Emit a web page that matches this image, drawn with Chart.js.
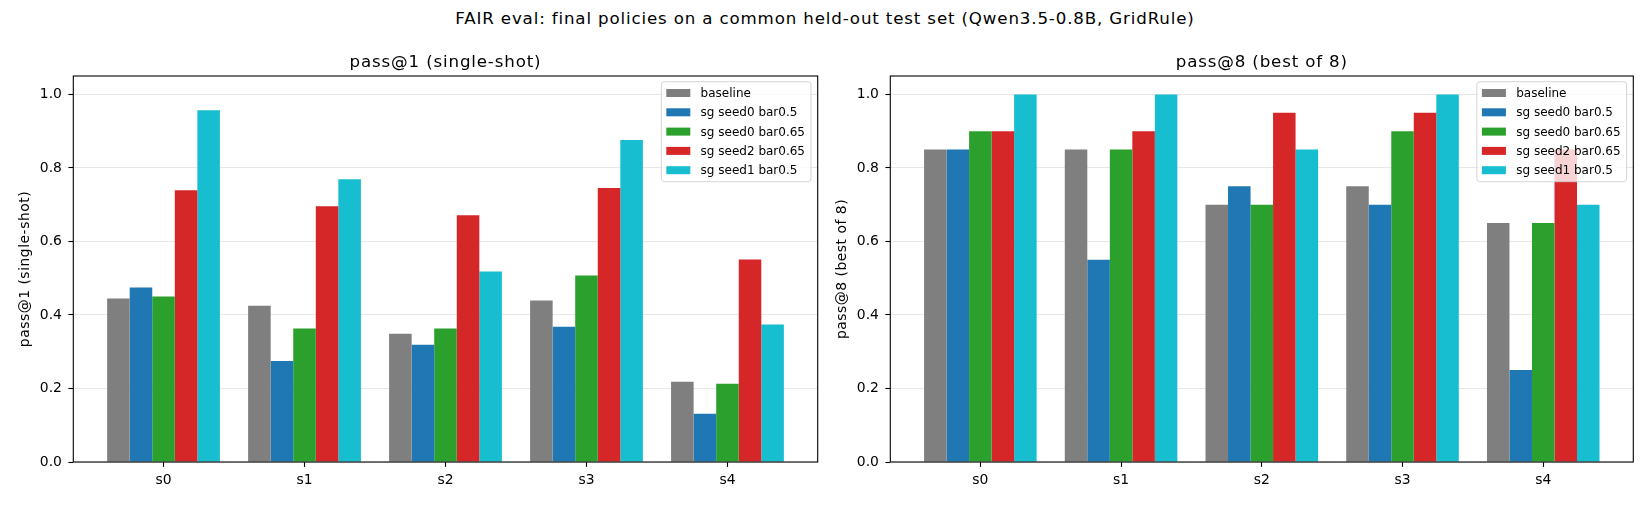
<!DOCTYPE html>
<html>
<head>
<meta charset="utf-8">
<script src="https://cdn.jsdelivr.net/npm/chart.js@4/dist/chart.umd.min.js"></script>
<style>
  html, body { margin: 0; padding: 0; background: #fff; }
  body { width: 1650px; height: 505px; position: relative; overflow: hidden; font-family: "DejaVu Sans", sans-serif; }
  #suptitle { position: absolute; left: 0; top: 8.9px; width: 1650px; text-align: center; font-size: 16.67px; line-height: 20px; letter-spacing: 0.85px; color: #000; }
  .panel { position: absolute; top: 0; width: 825px; height: 505px; }
</style>
</head>
<body>
<div id="suptitle">FAIR eval: final policies on a common held-out test set (Qwen3.5-0.8B, GridRule)</div>
<div class="panel" style="left:0"><canvas id="pass1" width="825" height="505"></canvas></div>
<div class="panel" style="left:817px"><canvas id="pass8" width="825" height="505"></canvas></div>
<script>
const categories = ['s0', 's1', 's2', 's3', 's4'];
const seriesNames = ['baseline', 'sg seed0 bar0.5', 'sg seed0 bar0.65', 'sg seed2 bar0.65', 'sg seed1 bar0.5'];
const seriesColors = ['#7f7f7f', '#1f77b4', '#2ca02c', '#d62728', '#17becf'];
const yTicks = [0, 0.2, 0.4, 0.6, 0.8, 1.0];

// pass@1 (single-shot)
const pass1Baseline = [0.445, 0.425, 0.349, 0.439, 0.218];
const pass1Seed0Bar05 = [0.475, 0.275, 0.319, 0.368, 0.131];
const pass1Seed0Bar065 = [0.450, 0.363, 0.363, 0.507, 0.213];
const pass1Seed2Bar065 = [0.739, 0.696, 0.671, 0.745, 0.551];
const pass1Seed1Bar05 = [0.957, 0.769, 0.518, 0.876, 0.374];

// pass@8 (best of 8)
const pass8Baseline = [0.85, 0.85, 0.70, 0.75, 0.65];
const pass8Seed0Bar05 = [0.85, 0.55, 0.75, 0.70, 0.25];
const pass8Seed0Bar065 = [0.90, 0.85, 0.70, 0.90, 0.65];
const pass8Seed2Bar065 = [0.90, 0.90, 0.95, 0.95, 0.85];
const pass8Seed1Bar05 = [1.00, 1.00, 0.85, 1.00, 0.70];

Chart.defaults.font.family = "'DejaVu Sans', sans-serif";
Chart.defaults.color = '#000';

// frame, axes title, y label and a matplotlib-like legend (upper right)
const axesExtras = {
  id: 'axesExtras',
  afterDatasetsDraw(chart, args, opts) {
    const { ctx, chartArea: a } = chart;
    ctx.save();
    ctx.strokeStyle = '#000';
    ctx.lineWidth = 1.1;
    ctx.strokeRect(a.left, a.top, a.right - a.left, a.bottom - a.top);

    // title
    ctx.fillStyle = '#000';
    ctx.letterSpacing = '0.84px';
    ctx.font = "16.67px 'DejaVu Sans'";
    ctx.textAlign = 'center';
    ctx.textBaseline = 'alphabetic';
    ctx.fillText(opts.title, (a.left + a.right) / 2, 66.5);

    // y label
    ctx.letterSpacing = '0.52px';
    ctx.font = "13.9px 'DejaVu Sans'";
    ctx.textBaseline = 'middle';
    ctx.save();
    ctx.translate(25.1, (a.top + a.bottom) / 2);
    ctx.rotate(-Math.PI / 2);
    ctx.fillText(opts.ylabel, 0, 0);
    ctx.restore();

    // legend
    ctx.letterSpacing = '0px';
    ctx.textAlign = 'left';
    ctx.font = "12px 'DejaVu Sans'";
    const sets = chart.data.datasets;
    const textW = Math.max(...sets.map(d => ctx.measureText(d.label).width));
    const w = 39.3 + textW + 6, h = 100;
    const x = a.right - 6.7 - w, y = a.top + 5.7;
    ctx.beginPath();
    ctx.roundRect(x, y, w, h, 3);
    ctx.fillStyle = 'rgba(255,255,255,0.8)';
    ctx.fill();
    ctx.strokeStyle = 'rgba(204,204,204,0.8)';
    ctx.lineWidth = 1;
    ctx.stroke();
    sets.forEach((d, i) => {
      const cy = y + 11.3 + i * 19.3;
      ctx.fillStyle = d.backgroundColor;
      ctx.fillRect(x + 5, cy - 4, 24, 8);
      ctx.fillStyle = '#000';
      ctx.fillText(d.label, x + 39.3, cy + 1);
    });
    ctx.restore();
  }
};

function makeChart(id, title, ylabel, series, padRight) {
  const ctx = document.getElementById(id).getContext('2d');
  return new Chart(ctx, {
    type: 'bar',
    data: {
      datasets: series.map((vals, s) => ({
        label: seriesNames[s],
        data: categories.map((c, i) => ({ x: i, y: vals[i] })),
        backgroundColor: seriesColors[s],
        borderWidth: 0,
        categoryPercentage: 0.8,
        barPercentage: 1.0
      }))
    },
    options: {
      responsive: false,
      devicePixelRatio: 1,
      animation: false,
      layout: { padding: { top: 76, left: 0, right: padRight, bottom: 0 } },
      plugins: {
        legend: { display: false },
        tooltip: { enabled: false },
        title: { display: false },
        axesExtras: { title, ylabel }
      },
      scales: {
        x: {
          type: 'linear',
          min: -0.64,
          max: 4.64,
          offset: false,
          border: { display: false },
          grid: { display: true, drawOnChartArea: false, offset: false, tickColor: '#000', tickLength: 4.9, tickWidth: 1.1 },
          afterBuildTicks: s => { s.ticks = categories.map((c, i) => ({ value: i })); },
          ticks: { autoSkip: false, maxRotation: 0, padding: 5.5, color: '#000', font: { size: 13.9 }, callback: v => categories[v] },
          afterFit: s => { s.height = 43; }
        },
        y: {
          min: 0,
          max: 1.05,
          border: { display: false },
          grid: { color: 'rgba(176,176,176,0.3)', lineWidth: 1, tickColor: '#000', tickLength: 4.9, tickWidth: 1.1 },
          afterBuildTicks: s => { s.ticks = yTicks.map(v => ({ value: v })); },
          ticks: { padding: 6.5, color: '#000', font: { size: 13.9 }, callback: v => v.toFixed(1) },
          afterFit: s => { s.width = 73.3; }
        }
      }
    },
    plugins: [axesExtras]
  });
}

makeChart('pass1', 'pass@1 (single-shot)', 'pass@1 (single-shot)',
  [pass1Baseline, pass1Seed0Bar05, pass1Seed0Bar065, pass1Seed2Bar065, pass1Seed1Bar05], 7.3);
makeChart('pass8', 'pass@8 (best of 8)', 'pass@8 (best of 8)',
  [pass8Baseline, pass8Seed0Bar05, pass8Seed0Bar065, pass8Seed2Bar065, pass8Seed1Bar05], 8.7);
</script>
</body>
</html>
